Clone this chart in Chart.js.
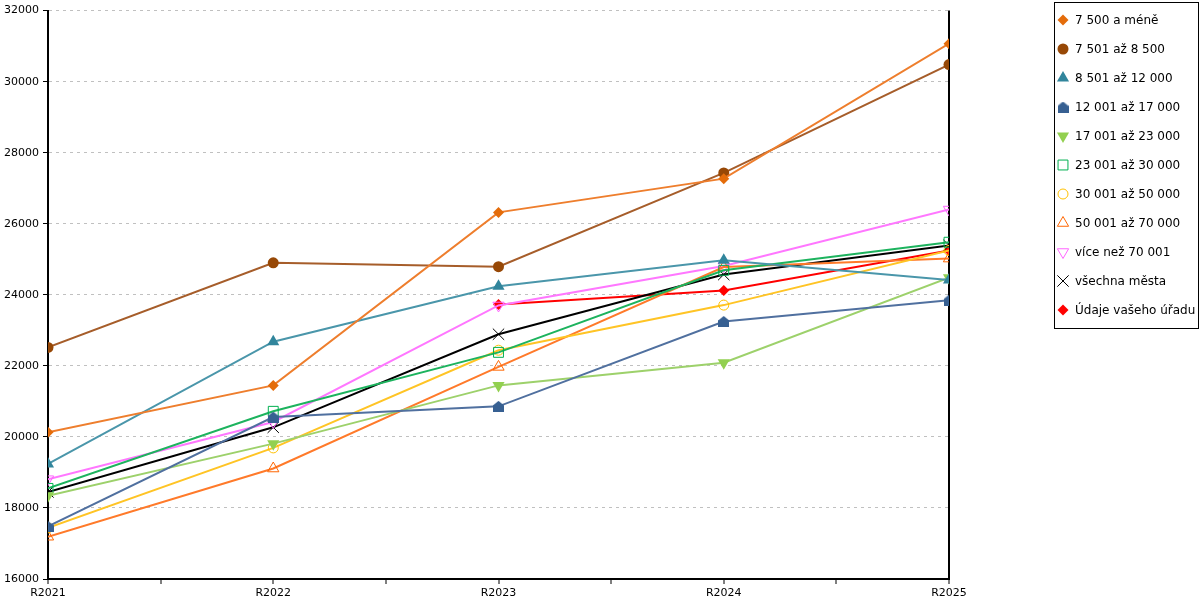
<!DOCTYPE html>
<html>
<head>
<meta charset="utf-8">
<script src="https://cdn.jsdelivr.net/npm/chart.js"></script>
<style>
  html, body { margin: 0; padding: 0; background: #fff; }
  #wrap { width: 1200px; height: 600px; }
</style>
</head>
<body>
<div id="wrap"><canvas id="chart" width="1200" height="600"></canvas></div>
<script>
// categories and series values
const years = ['R2021', 'R2022', 'R2023', 'R2024', 'R2025'];

const seriesNames = [
  '7 500 a méně',
  '7 501 až 8 500',
  '8 501 až 12 000',
  '12 001 až 17 000',
  '17 001 až 23 000',
  '23 001 až 30 000',
  '30 001 až 50 000',
  '50 001 až 70 000',
  'více než 70 001',
  'všechna města',
  'Údaje vašeho úřadu',
];

const upTo7500 = [20130, 21450, 26320, 27270, 31070];
const from7501 = [22520, 24900, 24790, 27430, 30480];
const from8501 = [19240, 22680, 24240, 24970, 24420];
const from12001 = [17480, 20560, 20860, 23250, 23850];
const from17001 = [18340, 19810, 21450, 22090, 24480];
const from23001 = [18550, 20720, 22380, 24690, 25480];
const from30001 = [17440, 19690, 22440, 23710, 25250];
const from50001 = [17190, 19110, 21970, 24780, 25020];
const over70001 = [18810, 20420, 23700, 24810, 26400];
const allCities = [18450, 20270, 22890, 24570, 25390];
const yourOffice = [null, null, 23730, 24120, 25250];

const yTicks = [16000, 18000, 20000, 22000, 24000, 26000, 28000, 30000, 32000];

// "house" shaped marker (pentagon with a peak)
function houseMarker(color) {
  const c = document.createElement('canvas');
  c.width = 11;
  c.height = 11;
  const g = c.getContext('2d');
  g.fillStyle = color;
  g.beginPath();
  g.moveTo(5.5, 0);
  g.lineTo(11, 4.5);
  g.lineTo(11, 11);
  g.lineTo(0, 11);
  g.lineTo(0, 4.5);
  g.closePath();
  g.fill();
  return c;
}

const styles = [
  { line: '#EE7E2D', mark: '#E46C0A', style: 'rectRot', r: 5.5, fill: true },
  { line: '#A65D2A', mark: '#974806', style: 'circle', r: 5.5, fill: true },
  { line: '#4A96AA', mark: '#31859C', style: 'triangle', r: 7, fill: true },
  { line: '#50709F', mark: '#376092', style: houseMarker('#376092'), r: 6, fill: true },
  { line: '#9DD16B', mark: '#92D050', style: 'triangle', r: 7, fill: true, rot: 180 },
  { line: '#1DB35E', mark: '#00B050', style: 'rect', r: 7, fill: false },
  { line: '#FFC425', mark: '#FFC000', style: 'circle', r: 5, fill: false },
  { line: '#FF7A2A', mark: '#FF6600', style: 'triangle', r: 6.5, fill: false },
  { line: '#FF77FF', mark: '#FF66FF', style: 'triangle', r: 6.5, fill: false, rot: 180 },
  { line: '#000000', mark: '#000000', style: 'crossRot', r: 8, fill: false },
  { line: '#FF0000', mark: '#FF0000', style: 'rectRot', r: 5.5, fill: true },
];

const allValues = [
  upTo7500, from7501, from8501, from12001, from17001, from23001,
  from30001, from50001, over70001, allCities, yourOffice,
];

const datasets = allValues.map((vals, i) => {
  const s = styles[i];
  return {
    label: seriesNames[i],
    data: vals.map((v, k) => ({ x: k, y: v })),
    borderColor: s.line,
    borderWidth: 2,
    pointStyle: s.style,
    pointRadius: s.r,
    pointHoverRadius: s.r,
    pointRotation: s.rot || 0,
    pointBorderColor: s.mark,
    pointBackgroundColor: s.fill ? s.mark : 'rgba(0,0,0,0)',
    pointBorderWidth: s.fill ? 0 : 1,
    tension: 0,
    spanGaps: false,
  };
});

// legend drawn by hand so the boxed layout matches
const boxLegend = {
  id: 'boxLegend',
  afterDraw(chart) {
    const ctx = chart.ctx;
    ctx.save();
    ctx.strokeStyle = '#000';
    ctx.lineWidth = 1;
    ctx.strokeRect(1054.5, 2.5, 144, 326);
    ctx.font = '12px "DejaVu Sans"';
    ctx.textBaseline = 'middle';
    ctx.textAlign = 'left';
    chart.data.datasets.forEach((ds, i) => {
      const y = 20 + i * 29;
      const s = styles[i];
      ctx.fillStyle = s.fill ? s.mark : 'rgba(0,0,0,0)';
      ctx.strokeStyle = s.mark;
      ctx.lineWidth = 1;
      Chart.helpers.drawPoint(ctx, {
        pointStyle: s.style,
        rotation: s.rot || 0,
        radius: s.r,
        borderWidth: s.fill ? 0 : 1,
      }, 1063, y);
      ctx.fillStyle = '#000';
      ctx.fillText(ds.label, 1075, y + 1);
    });
    ctx.restore();
  },
};

const ctx = document.getElementById('chart').getContext('2d');
new Chart(ctx, {
  type: 'line',
  data: { datasets },
  plugins: [boxLegend],
  options: {
    responsive: false,
    animation: false,
    layout: { padding: { left: 0, top: 10, right: 251, bottom: 0 } },
    plugins: {
      legend: { display: false },
      tooltip: { enabled: false },
    },
    scales: {
      x: {
        type: 'linear',
        min: 0,
        max: years.length - 1,
        afterBuildTicks: (scale) => {
          const t = [];
          for (let v = 0; v <= years.length - 1; v += 0.5) t.push({ value: v });
          scale.ticks = t;
        },
        afterFit: (scale) => { scale.height = 21; },
        ticks: {
          autoSkip: false,
          maxRotation: 0,
          padding: 3,
          color: '#000',
          font: { family: 'DejaVu Sans', size: 11 },
          callback: (v) => (Number.isInteger(v) ? years[v] : ''),
        },
        grid: {
          drawOnChartArea: true,
          color: (c) => (c.tick && c.tick.value === years.length - 1 ? '#000' : 'rgba(0,0,0,0)'),
          lineWidth: 2,
          tickColor: '#000',
          tickLength: 5,
          tickWidth: 1,
        },
        border: { color: '#000', width: 2 },
      },
      y: {
        min: yTicks[0],
        max: yTicks[yTicks.length - 1],
        afterBuildTicks: (scale) => { scale.ticks = yTicks.map((v) => ({ value: v })); },
        afterFit: (scale) => { scale.width = 48; },
        ticks: {
          padding: 4,
          color: '#000',
          font: { family: 'DejaVu Sans', size: 11 },
          callback: (v) => String(v),
        },
        grid: {
          color: '#C0C0C0',
          lineWidth: 1,
          tickColor: '#000',
          tickLength: 5,
          tickBorderDash: [],
        },
        border: { color: '#000', width: 2, dash: [3, 4] },
      },
    },
  },
});
</script>
</body>
</html>
